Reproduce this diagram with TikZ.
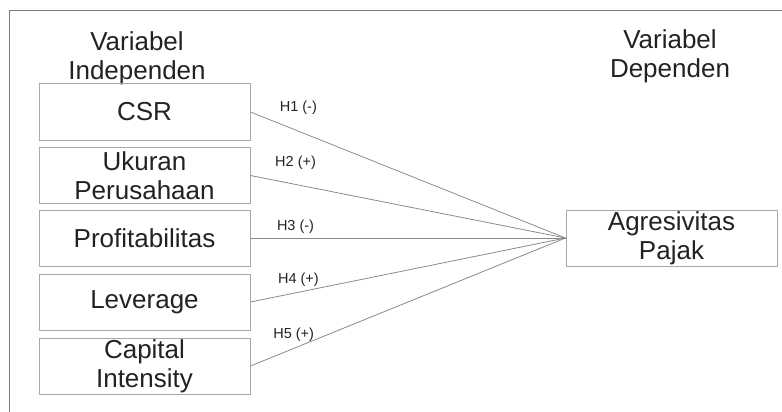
\documentclass[tikz,border=0pt]{standalone}
\usepackage{fontspec}
\setmainfont{Liberation Sans}
\usetikzlibrary{positioning}
\definecolor{txtgray}{HTML}{222222}
\definecolor{boxgray}{HTML}{A8A8A8}
\definecolor{linegray}{HTML}{8A8A8A}
\tikzset{x=1pt, y=-1pt,
var/.style={draw=boxgray, line width=1pt, minimum width=211pt, minimum height=56pt,
  inner sep=0pt, align=center, text=txtgray, font=\fontsize{26}{29}\selectfont},
head/.style={align=center, inner sep=0pt, text=txtgray, font=\fontsize{26}{29}\selectfont},
hyp/.style={inner sep=0pt, text=txtgray, font=\fontsize{14.5}{16}\selectfont},
}

\begin{document}
\begin{tikzpicture}
    \useasboundingbox (0,0) rectangle (782,412);
    \draw[linegray!90!black, line width=1pt] (9,412) -- (9,11) -- (782,11);

    \node[head] (indep) at (137,58) {Variabel\\Independen};
    \node[head] (dep) at (670,56) {Variabel\\Dependen};

    \node[var] (csr) at (144.5,112) {CSR};
    \node[var] (ukuran) at (144.5,175.5) {Ukuran\\Perusahaan};
    \node[var] (profit) at (144.5,238) {Profitabilitas};
    \node[var] (lev) at (144.5,302) {Leverage};
    \node[var] (capint) at (144.5,366) {Capital\\Intensity};

    \node[var] (agresi) at (671.5,238) {Agresivitas\\Pajak};

    \draw[linegray, line width=0.8pt]
    (csr.east) edge node[hyp, pos=0.152, yshift=23pt]{H1 (-)} (agresi.west)
    (ukuran.east) edge node[hyp, pos=0.143, yshift=22pt]{H2 (+)} (agresi.west)
    (profit.east) edge node[hyp, pos=0.143, yshift=11pt]{H3 (-)} (agresi.west)
    (lev.east) edge node[hyp, pos=0.152, yshift=13pt]{H4 (+)} (agresi.west)
    (capint.east) edge node[hyp, pos=0.137, yshift=13.5pt]{H5 (+)} (agresi.west)
    ;
\end{tikzpicture}
\end{document}
